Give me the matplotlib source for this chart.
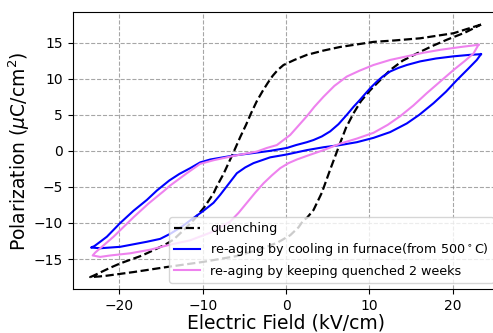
import matplotlib.pyplot as plt

# quenching loop (upper branch E decreasing, then lower branch E increasing)
q_E = [23.4, 20.1, 16.1, 13.0, 10.5, 6.5, 4.5, 2.5, 1.0, -0.3, -1.0, -1.6, -2.2, -2.8, -3.5,
       -4.2, -4.8, -5.5, -6.3, -6.7, -7.5, -8.3, -8.7, -9.8, -11.1, -12.3, -13.5, -14.5, -16.7,
       -17.5, -19.9, -21.1, -23.1, -23.5,
       -22.3, -21.5, -18.3, -14.3, -10.0, -6.0, -3.0, -1.0, 0.5, 1.5, 2.1, 2.5, 3.3, 4.3,
       5.3, 6.5, 7.2, 8.1, 9.0, 10.1, 12.5, 14.0, 15.7, 17.5, 19.3, 21.5, 23.4]
q_P = [17.5, 16.3, 15.6, 15.3, 15.1, 14.4, 13.9, 13.3, 12.6, 11.9, 11.2, 10.4, 9.4, 8.3, 6.9,
       5.2, 3.6, 1.9, -0.2, -1.2, -3.2, -4.9, -5.9, -7.8, -9.6, -11.0, -12.3, -13.0, -14.2,
       -14.6, -15.6, -16.2, -17.3, -17.5,
       -17.4, -17.3, -16.8, -16.1, -15.4, -14.6, -13.6, -12.7, -11.7, -10.6, -9.6, -9.3, -8.2, -5.8,
       -2.6, 1.1, 3.2, 5.2, 6.9, 8.4, 11.2, 12.5, 13.5, 14.5, 15.4, 16.4, 17.5]

# re-aging by cooling in furnace
f_E = [23.4, 22.0, 20.1, 18.0, 16.1, 14.5, 13.5, 12.5, 11.6, 10.9, 10.2, 9.5, 8.9, 8.1, 7.3,
       6.3, 5.3, 4.3, 3.3, 2.5, 1.2, 0.1, -1.9, -3.9, -6.3, -9.1, -10.3, -11.5, -12.8, -14.0,
       -15.5, -16.7, -18.3, -19.9, -21.5, -22.3, -23.0, -23.4,
       -22.3, -19.9, -16.7, -15.1, -13.9, -12.5, -11.1, -9.9, -8.7, -7.9, -7.1, -5.9, -4.9,
       -3.9, -1.9, 0.1, 2.5, 4.5, 6.5, 8.5, 10.5, 12.5, 14.5, 16.0, 17.7, 19.2, 20.5, 21.8,
       22.9, 23.4]
f_P = [13.4, 13.3, 13.1, 12.8, 12.4, 11.9, 11.5, 11.0, 10.3, 9.6, 8.8, 7.9, 7.1, 6.1, 5.0,
       3.7, 2.7, 2.0, 1.5, 1.2, 0.8, 0.4, 0.0, -0.3, -0.65, -1.2, -1.6, -2.4, -3.2, -4.1,
       -5.5, -6.8, -8.3, -10.0, -11.9, -12.6, -13.2, -13.4,
       -13.5, -13.3, -12.6, -12.2, -11.5, -10.5, -9.3, -8.3, -7.2, -6.1, -4.9, -3.1, -2.3,
       -1.7, -0.9, -0.5, 0.1, 0.5, 0.8, 1.2, 1.8, 2.6, 3.8, 5.0, 6.6, 8.2, 9.8, 11.3,
       12.6, 13.4]

# re-aging by keeping quenched 2 weeks
k_E = [23.1, 21.0, 18.5, 16.5, 14.5, 12.5, 10.5, 8.8, 7.3, 5.8, 4.5, 3.4, 2.5, 1.5, 0.5,
       -1.1, -2.3, -3.5, -6.3, -8.7, -10.3, -11.9, -13.9, -14.7, -16.5, -18.3, -19.9, -20.7,
       -21.1, -22.3, -22.9, -23.2,
       -22.3, -21.1, -18.7, -16.3, -13.9, -11.5, -9.0, -6.7, -5.7, -4.7, -3.7, -2.7, -1.7,
       -0.7, 0.3, 1.3, 2.5, 4.5, 6.5, 8.5, 10.5, 12.2, 13.7, 15.3, 16.9, 18.5, 20.1, 21.5,
       22.5, 23.1]
k_P = [14.7, 14.4, 14.0, 13.6, 13.1, 12.6, 11.9, 11.1, 10.3, 9.0, 7.5, 6.1, 4.8, 3.5, 2.2,
       0.8, 0.4, -0.1, -0.7, -1.3, -1.8, -3.1, -4.8, -5.6, -7.3, -9.2, -11.0, -11.9,
       -12.3, -13.5, -14.1, -14.5,
       -14.7, -14.5, -14.2, -13.7, -13.0, -12.4, -11.3, -9.8, -8.6, -7.2, -5.8, -4.5, -3.4,
       -2.4, -1.7, -1.2, -0.7, 0.1, 1.0, 1.7, 2.5, 3.6, 4.8, 6.3, 8.0, 9.6, 11.2, 12.5,
       13.5, 14.7]

fig = plt.figure(figsize=(4.93, 3.33), dpi=100)
ax = fig.add_axes([0.1475, 0.131, 0.867, 0.832])

ax.plot(q_E, q_P, '--', color='black', lw=1.6, label='quenching')
ax.plot(f_E, f_P, '-', color='blue', lw=1.5, label='re-aging by cooling in furnace(from 500$^\\circ$C)')
ax.plot(k_E, k_P, '-', color='violet', lw=1.5, label='re-aging by keeping quenched 2 weeks')

ax.set_xlim(-25.6, 25.7)
ax.set_ylim(-19.2, 19.2)
ax.set_xticks([-20, -10, 0, 10, 20])
ax.set_yticks([-15, -10, -5, 0, 5, 10, 15])
ax.tick_params(labelsize=10)
ax.grid(True, linestyle='--', color='gray', alpha=0.7)
ax.set_xlabel('Electric Field (kV/cm)', fontsize=13.5, labelpad=0.5)
ax.set_ylabel('Polarization ($\\mu$C/cm$^2$)', fontsize=13.5, labelpad=1)
ax.legend(loc='lower right', fontsize=9.2)

fig.savefig('out.png', dpi=100)
